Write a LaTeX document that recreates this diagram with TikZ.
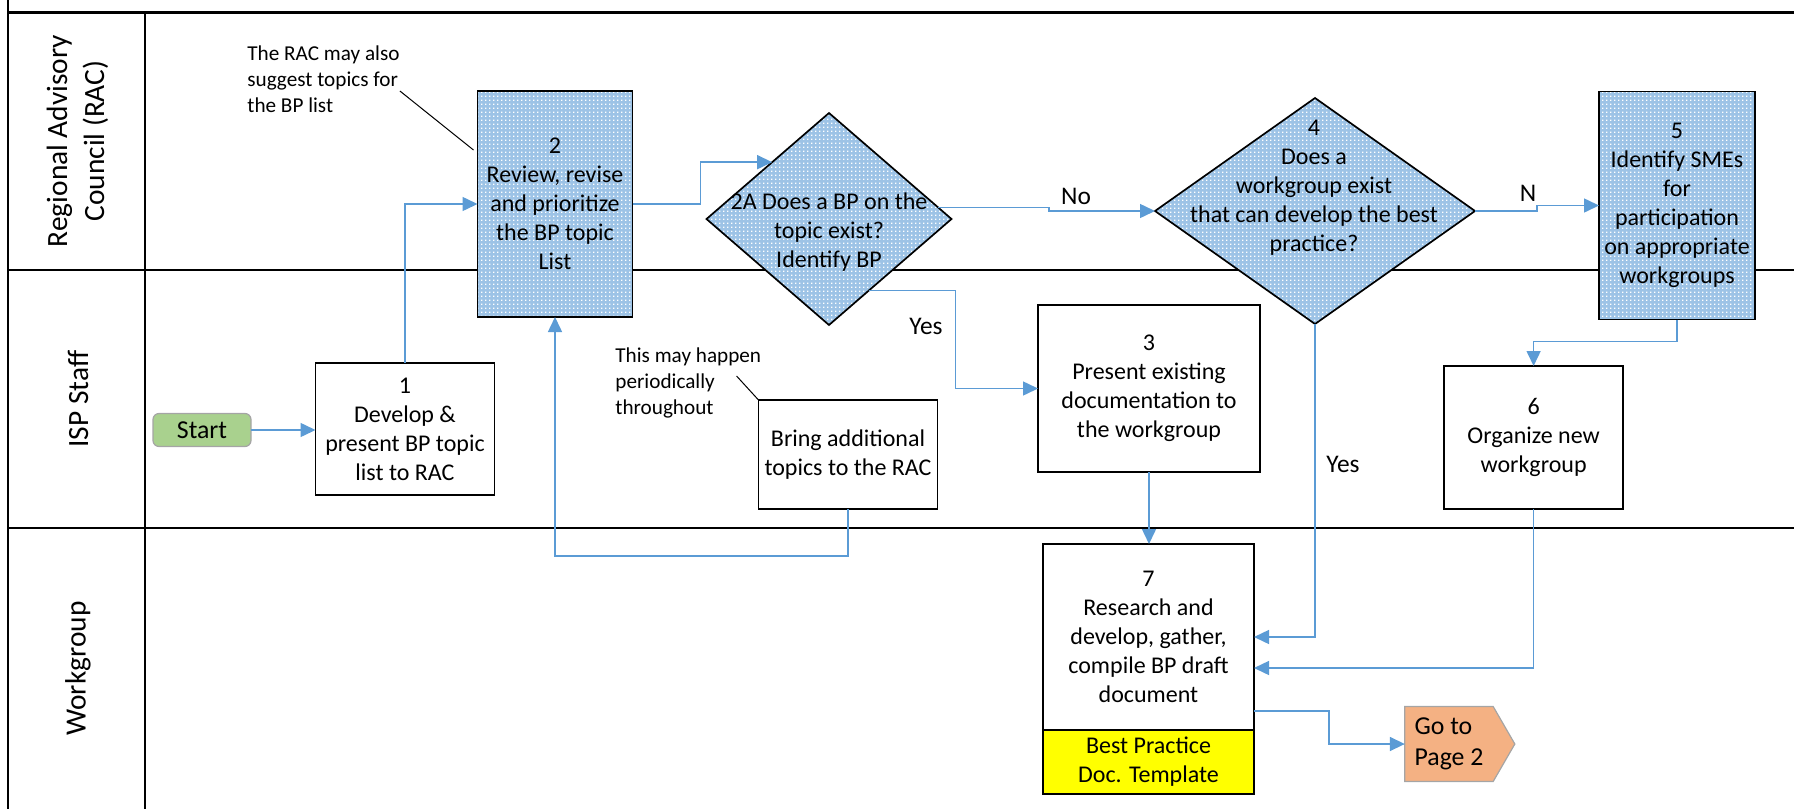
\documentclass[tikz,border=0pt]{standalone}
\usepackage{fontspec}
\setmainfont{Carlito}
\usepackage{xcolor}
\definecolor{flowBlue}{HTML}{5B9BD5}
\definecolor{patternBlue}{HTML}{9DC3E6}
\definecolor{startGreen}{HTML}{A9D18E}
\definecolor{pageOrange}{HTML}{F4B183}
\definecolor{templateYellow}{HTML}{FFFF00}
\definecolor{shapeGray}{HTML}{A5A5A5}
\usepackage{tikz}
\usetikzlibrary{shapes, arrows.meta, positioning, patterns.meta}

\tikzdeclarepattern{
    name=bpDots,
    type=uncolored,
    bottom left={(0pt,0pt)},
    top right={(1.85pt,1.85pt)},
    tile size={(1.85pt,1.85pt)},
    code={
        \pgfpathrectangle{\pgfpointorigin}{\pgfpoint{0.8pt}{0.8pt}}
        \pgfusepath{fill}
    }
}

\begin{document}
\begin{tikzpicture}[
        x=0.5pt, y=-0.5pt,
        >={Triangle[length=7.5pt, width=7pt]},
        laneLine/.style={
            black,
            line width=1.4pt
        },
        laneLabel/.style={
            rotate=90,
            align=center,
            font=\fontsize{14.7}{18.5}\selectfont
        },
        processBox/.style={
            draw=black,
            fill=white,
            line width=0.85pt,
            outer sep=0pt,
            inner sep=0pt,
            align=center,
            font=\fontsize{12}{14.5}\selectfont
        },
        dottedBox/.style={
            draw=black,
            line width=0.85pt,
            outer sep=0pt,
            inner sep=0pt,
            align=center,
            font=\fontsize{12}{14.5}\selectfont,
            preaction={fill=patternBlue},
            pattern=bpDots,
            pattern color=white
        },
        decisionNode/.style={
            diamond,
            draw=black,
            line width=0.85pt,
            outer sep=0pt,
            inner sep=0pt,
            preaction={fill=patternBlue},
            pattern=bpDots,
            pattern color=white
        },
        diamondText/.style={
            align=center,
            inner sep=0pt,
            font=\fontsize{12}{14.5}\selectfont
        },
        templateBox/.style={
            draw=black,
            fill=templateYellow,
            line width=0.85pt,
            outer sep=0pt,
            inner sep=0pt,
            minimum width=105.5pt,
            minimum height=32pt,
            align=center,
            font=\fontsize{12}{14.5}\selectfont
        },
        startNode/.style={
            draw=shapeGray,
            fill=startGreen,
            rounded corners=3pt,
            line width=0.6pt,
            outer sep=0pt,
            inner sep=0pt,
            minimum width=49pt,
            minimum height=16.5pt,
            font=\fontsize{12.9}{15}\selectfont
        },
        pageNode/.style={
            signal,
            signal to=east,
            signal pointer angle=120,
            draw=shapeGray,
            fill=pageOrange,
            line width=0.6pt,
            outer sep=0pt,
            inner sep=0pt,
            minimum width=55pt,
            minimum height=37.5pt,
            align=left,
            font=\fontsize{12.9}{15.5}\selectfont
        },
        flowLine/.style={
            ->,
            draw=flowBlue,
            line width=0.75pt
        },
        flowLabel/.style={
            inner sep=0pt,
            font=\fontsize{12.7}{15}\selectfont
        },
        noteText/.style={
            anchor=west,
            align=left,
            inner sep=0pt,
            font=\fontsize{10.6}{13}\selectfont
        },
        noteLine/.style={
            black,
            line width=0.5pt
        }
    ]
    \useasboundingbox (0,0) rectangle (1794,809);

    % Swimlane frame
    \draw[laneLine] (8,0) -- (8,809);
    \draw[laneLine] (145,12.7) -- (145,809);
    \draw[laneLine] (8,12.7) -- (1794,12.7);
    \draw[laneLine] (8,270) -- (1794,270);
    \draw[laneLine] (8,528) -- (1794,528);

    % Lane titles
    \node[laneLabel] (laneRAC) at (77.5,141) {Regional Advisory\\Council (RAC)};
    \node[laneLabel] (laneISP) at (78,399) {ISP Staff};
    \node[laneLabel] (laneWG) at (78,668.5) {Workgroup};

    % ISP Staff steps
    \node[startNode] (start) at (202,430) {Start};
    \node[processBox, minimum width=89.5pt, minimum height=66pt] (box1) at (405,429) {1\\Develop \&\\present BP topic\\list to RAC};
    \node[processBox, minimum width=89.5pt, minimum height=54.5pt] (bring) at (848,454.5) {Bring additional\\topics to the RAC};
    \node[processBox, minimum width=111pt, minimum height=83.5pt] (box3) at (1149,388.5) {3\\Present existing\\documentation to\\the workgroup};
    \node[processBox, minimum width=89.5pt, minimum height=71.5pt] (box6) at (1533.6,437.5) {6\\Organize new\\workgroup};

    % RAC steps
    \node[dottedBox, minimum width=77.5pt, minimum height=113pt] (box2) at (555,204) {2\\Review, revise\\and prioritize\\the BP topic\\List};
    \node[decisionNode, minimum width=122.5pt, minimum height=106pt] (dia2A) at (829,219) {};
    \node[diamondText] (dia2Atext) at (829,232) {2A Does a BP on the\\topic exist?\\Identify BP};
    \node[decisionNode, minimum width=160pt, minimum height=113pt] (dia4) at (1315,211) {};
    \node[diamondText] (dia4text) at (1314,187.5) {4\\Does a\\workgroup exist\\that can develop the best\\practice?};
    \node[dottedBox, minimum width=78pt, minimum height=114pt] (box5) at (1677,205.5) {5\\Identify SMEs\\for\\participation\\on appropriate\\workgroups};

    % Workgroup steps
    \node[processBox, minimum width=105.5pt, minimum height=93pt] (box7) at (1148.5,637) {7\\Research and\\develop, gather,\\compile BP draft\\document};
    \node[templateBox, below=0pt of box7] (box7tpl) {Best Practice\\Doc. Template};
    \node[pageNode] (goPage) at (1449,744) {Go to\\Page 2};

    % Notes
    \node[noteText] (noteRAC) at (247,79) {The RAC may also\\suggest topics for\\the BP list};
    \node[noteText] (noteBring) at (615,382.5) {This may happen\\periodically\\throughout};
    \draw[noteLine] ([yshift=-6pt]noteRAC.east) -- ([xshift=-2pt,yshift=27pt]box2.west);
    \draw[noteLine] ([xshift=-12.5pt,yshift=3.25pt]noteBring.east) -- (bring.north west);

    % Connections
    \draw[flowLine] (start.east) -- (start.east -| box1.west);
    \draw[flowLine] (box1.north) |- (box2.west);
    \draw[flowLine] (box2.east) -- ++(68,0) |- (dia2A.135);
    \draw[flowLine] (dia2A.6) -| ([xshift=-53pt]dia4.west) -- (dia4.west);
    \draw[flowLine] (dia2A.299) -- ++(87,0) |- (box3.west);
    \draw[flowLine] (dia4.east) -| ([xshift=-31pt]box5.west) -- (box5.west);
    \draw[flowLine] (box5.south) -- ++(0,22) -| (box6.north);
    \draw[flowLine] (box3.south) -- (box3.south |- box7.north);
    \draw[flowLine] (dia4.south) |- (box7.east);
    \draw[flowLine] (box6.south) |- ([yshift=-15.5pt]box7.east);
    \draw[flowLine] ([yshift=-37pt]box7.east) -- ++(75,0) |- (goPage.west);
    \draw[flowLine] (bring.south) -- ++(0,47) -| (box2.south);

    % Branch labels
    \node[flowLabel] (lblNo) at (1076,196) {No};
    \node[flowLabel] (lblN) at (1528,193) {N};
    \node[flowLabel] (lblYesA) at (926,326) {Yes};
    \node[flowLabel] (lblYesB) at (1343,464) {Yes};
\end{tikzpicture}
\end{document}
